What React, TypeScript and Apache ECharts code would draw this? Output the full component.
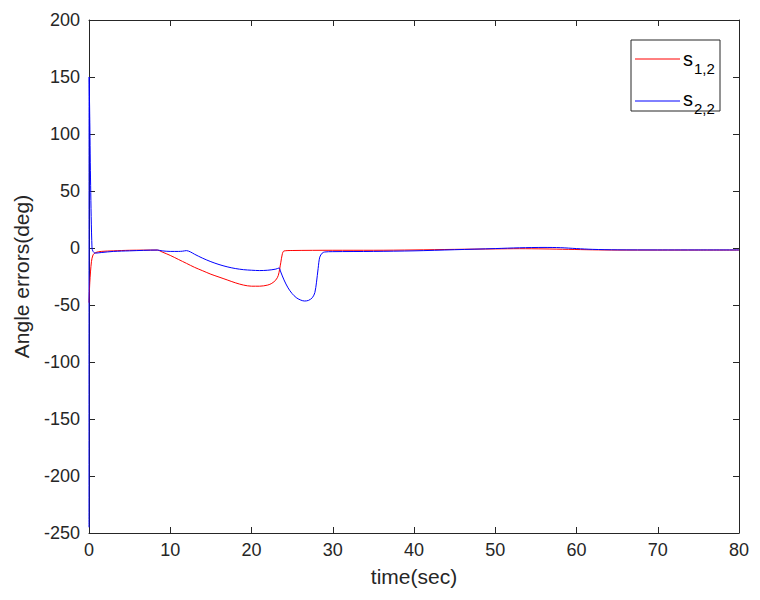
import React, { useEffect, useRef } from "react";
import * as echarts from "echarts";

const seriesNames = ["s_{1,2}", "s_{2,2}"];
const legendSubs = ["1,2", "2,2"];
const colors = ["#ff0000", "#0000ff"];

const xTicks = [0, 10, 20, 30, 40, 50, 60, 70, 80];
const yTicks = [-250, -200, -150, -100, -50, 0, 50, 100, 150, 200];

// s_{1,2} (red)
const redT = [0, 0.1, 0.3, 0.5, 0.8, 1.5, 3, 5, 8.4, 9, 10, 11, 12, 13, 14, 15, 16, 17, 18, 19, 20, 21, 22, 22.5, 23, 23.3, 23.6, 23.8, 24, 25, 30, 35, 40, 45, 50, 53, 56, 59, 62, 65, 70, 75, 80];
const redV = [-48, -30, -12, -6, -4, -3, -2.5, -2, -1.8, -3.5, -6.5, -10, -13.5, -17, -20, -23, -25.5, -28, -30.5, -32.5, -33.5, -33.5, -32.5, -31, -28, -24, -13, -5, -2.6, -2.2, -2, -2, -1.7, -1.2, -0.8, -0.6, -0.8, -1.2, -1.6, -1.8, -1.8, -1.8, -1.8];

// s_{2,2} (blue)
const blueT = [0, 0.02, 0.1, 0.2, 0.37, 0.5, 0.75, 1.5, 3, 5, 8.4, 9, 10, 11, 11.5, 12, 12.5, 13, 14, 15, 16, 17, 18, 19, 20, 21, 22, 23, 23.4, 23.6, 24, 24.5, 25, 25.5, 26, 26.5, 27, 27.5, 27.8, 28, 28.2, 28.4, 28.7, 29, 30, 35, 40, 45, 50, 53, 56, 58, 60, 62, 65, 70, 80];
const blueV = [-245, 150, 110, 55, 0, -3, -4.5, -4, -3, -2.5, -1.8, -2.5, -3, -3, -2.8, -2.3, -3.5, -5.5, -9, -12, -14.5, -16.5, -18, -19, -19.5, -19.8, -19.5, -18.5, -17.5, -21, -28, -35, -40, -43.5, -45.5, -46.5, -46, -43.5, -39, -30, -18, -8, -4.5, -3.5, -3.2, -3, -2.5, -1.5, -0.5, 0.2, 0.5, 0.3, -0.5, -1.2, -1.6, -1.7, -1.7];

const FONT = "Liberation Sans";
const AX = "#262626";

export default function App() {
  const ref = useRef<HTMLDivElement>(null);
  useEffect(() => {
    if (!ref.current) return;
    const chart = echarts.init(ref.current, undefined, { renderer: "svg" });
    const toPairs = (t: number[], v: number[]) => t.map((x, i) => [x, v[i]]);
    const axisCommon = {
      axisLine: { show: true, onZero: false, lineStyle: { color: AX, width: 1 } },
      axisTick: { show: true, inside: true, length: 6, lineStyle: { color: AX } },
      splitLine: { show: false },
    };
    const grid = { left: 89, right: 21, top: 20, bottom: 67 };
    const lx = 635, lx2 = 680;
    chart.setOption({
      animation: false,
      backgroundColor: "#ffffff",
      grid,
      xAxis: [
        {
          type: "value", min: 0, max: 80, interval: 10, position: "bottom",
          ...axisCommon,
          axisLabel: { color: AX, fontFamily: FONT, fontSize: 18, margin: 8 },
          name: "time(sec)", nameLocation: "middle", nameGap: 33,
          nameTextStyle: { color: AX, fontFamily: FONT, fontSize: 21 },
        },
        {
          type: "value", min: 0, max: 80, interval: 10, position: "top",
          ...axisCommon, axisLabel: { show: false },
        },
      ],
      yAxis: [
        {
          type: "value", min: -250, max: 200, interval: 50, position: "left",
          ...axisCommon,
          axisLabel: { color: AX, fontFamily: FONT, fontSize: 18, margin: 9 },
          name: "Angle errors(deg)", nameLocation: "middle", nameGap: 57,
          nameTextStyle: { color: AX, fontFamily: FONT, fontSize: 21 },
        },
        {
          type: "value", min: -250, max: 200, interval: 50, position: "right",
          ...axisCommon, axisLabel: { show: false },
        },
      ],
      series: [
        {
          name: seriesNames[0], type: "line", data: toPairs(redT, redV),
          showSymbol: false, symbol: "none", smooth: 0.3,
          lineStyle: { color: colors[0], width: 1 }, z: 2,
        },
        {
          name: seriesNames[1], type: "line", data: toPairs(blueT, blueV),
          showSymbol: false, symbol: "none", smooth: 0.3,
          lineStyle: { color: colors[1], width: 1 }, z: 3,
        },
      ],
      graphic: [
        {
          type: "rect", shape: { x: 631, y: 40, width: 89, height: 71 },
          style: { fill: "#ffffff", stroke: AX, lineWidth: 1 }, z: 10,
        },
        { type: "line", shape: { x1: lx, y1: 59, x2: lx2, y2: 59 }, style: { stroke: colors[0], lineWidth: 1 }, z: 11 },
        { type: "line", shape: { x1: lx, y1: 101, x2: lx2, y2: 101 }, style: { stroke: colors[1], lineWidth: 1 }, z: 11 },
        { type: "text", x: 683, y: 59, style: { text: "s", font: `20px "${FONT}"`, fill: "#000", verticalAlign: "middle" }, z: 11 },
        { type: "text", x: 694, y: 68, style: { text: legendSubs[0], font: `15px "${FONT}"`, fill: "#000", verticalAlign: "middle" }, z: 11 },
        { type: "text", x: 683, y: 99, style: { text: "s", font: `20px "${FONT}"`, fill: "#000", verticalAlign: "middle" }, z: 11 },
        { type: "text", x: 694, y: 108, style: { text: legendSubs[1], font: `15px "${FONT}"`, fill: "#000", verticalAlign: "middle" }, z: 11 },
      ],
    });
    return () => chart.dispose();
  }, []);
  return <div ref={ref} style={{ width: 760, height: 600, position: "absolute", left: 0, top: 0 }} />;
}
